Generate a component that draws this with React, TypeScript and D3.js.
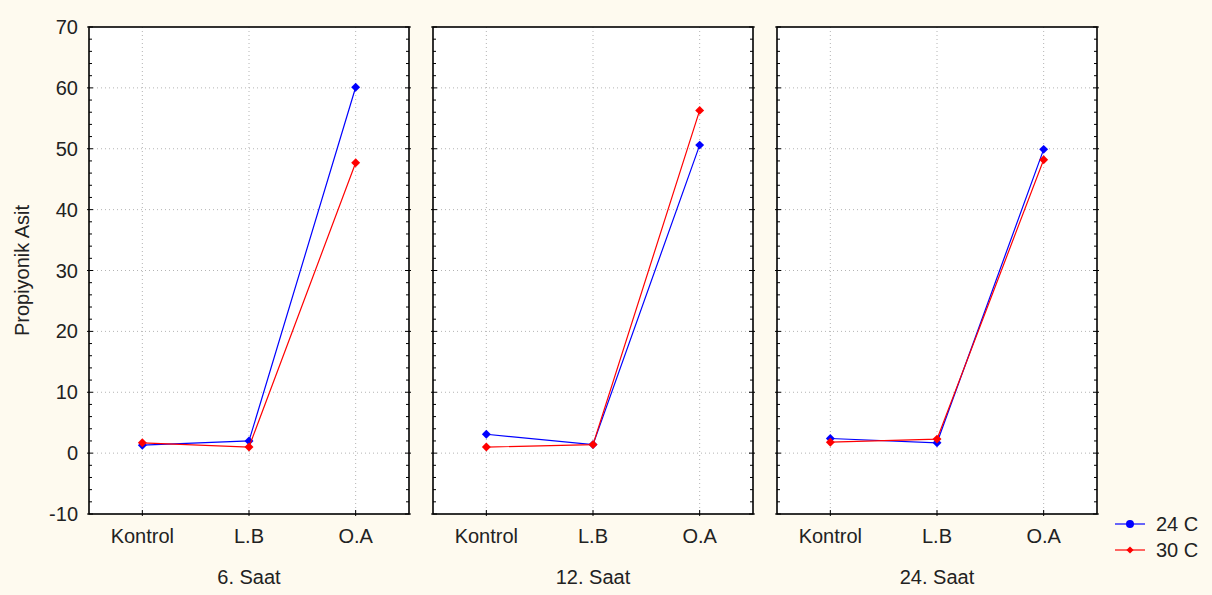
import { useEffect, useRef } from "react";
import * as d3 from "d3";

// data
const categories = ["Kontrol", "L.B", "O.A"];
const panels = ["6. Saat", "12. Saat", "24. Saat"];
const seriesNames = ["24 C", "30 C"];
const seriesColors = ["#0000ff", "#ff0000"];

// one array per panel, values in Kontrol, L.B, O.A order
const values24C = [
  [1.3, 2.0, 60.1],
  [3.1, 1.4, 50.6],
  [2.4, 1.7, 49.9],
];
const values30C = [
  [1.7, 1.0, 47.7],
  [1.0, 1.4, 56.3],
  [1.8, 2.3, 48.2],
];
const yTicks = [-10, 0, 10, 20, 30, 40, 50, 60, 70];

function App() {
  const ref = useRef<SVGSVGElement | null>(null);

  const width = 1212;
  const height = 595;
  const margin = { top: 27, bottom: 81, left: 89 };
  const panelW = 320;
  const panelGap = 24;
  const innerH = height - margin.top - margin.bottom;

  useEffect(() => {
    document.body.style.margin = "0";
    const svg = d3.select(ref.current);
    svg.selectAll("*").remove();

    svg.append("rect").attr("width", width).attr("height", height).attr("fill", "#fefaef");

    const y = d3.scaleLinear([-10, 70], [margin.top + innerH, margin.top]);
    const minorTicks = d3.range(-10, 70.01, 2).filter((v) => v % 10 !== 0);
    const font = "'Liberation Sans', Arial, sans-serif";
    const fs = "20px";

    const allSeries = [values24C, values30C];
    const diamond = d3.symbol(d3.symbolSquare, 40)();

    panels.forEach((title, pi) => {
      const x0 = margin.left + pi * (panelW + panelGap);
      const x = d3.scalePoint(categories, [x0, x0 + panelW]).padding(0.5);
      const g = svg.append("g");

      g.append("rect")
        .attr("x", x0)
        .attr("y", margin.top)
        .attr("width", panelW)
        .attr("height", innerH)
        .attr("fill", "#ffffff");

      // grid
      g.selectAll(".hgrid")
        .data(yTicks.slice(1, -1))
        .join("line")
        .attr("x1", x0)
        .attr("x2", x0 + panelW)
        .attr("y1", (d) => y(d))
        .attr("y2", (d) => y(d))
        .attr("stroke", "#b4b4b4")
        .attr("stroke-dasharray", "1,3");
      g.selectAll(".vgrid")
        .data(categories)
        .join("line")
        .attr("x1", (d) => x(d)!)
        .attr("x2", (d) => x(d)!)
        .attr("y1", margin.top)
        .attr("y2", margin.top + innerH)
        .attr("stroke", "#b4b4b4")
        .attr("stroke-dasharray", "1,3");

      // ticks on both sides
      [x0, x0 + panelW].forEach((ex, side) => {
        const dir = side === 0 ? 1 : -1;
        g.selectAll(null)
          .data(minorTicks)
          .join("line")
          .attr("x1", ex)
          .attr("x2", ex + dir * 3)
          .attr("y1", (d) => y(d))
          .attr("y2", (d) => y(d))
          .attr("stroke", "#000");
        g.selectAll(null)
          .data(yTicks)
          .join("line")
          .attr("x1", ex - dir * 2)
          .attr("x2", ex + dir * 4)
          .attr("y1", (d) => y(d))
          .attr("y2", (d) => y(d))
          .attr("stroke", "#000");
      });
      g.selectAll(null)
        .data(categories)
        .join("line")
        .attr("x1", (d) => x(d)!)
        .attr("x2", (d) => x(d)!)
        .attr("y1", margin.top + innerH + 2)
        .attr("y2", margin.top + innerH - 4)
        .attr("stroke", "#000");

      // lines and markers
      allSeries.forEach((vals, si) => {
        const pts = vals[pi].map((v, i) => ({ c: categories[i], v }));
        const line = d3
          .line<{ c: string; v: number }>()
          .x((d) => x(d.c)!)
          .y((d) => y(d.v));
        g.append("path")
          .attr("d", line(pts))
          .attr("fill", "none")
          .attr("stroke", seriesColors[si])
          .attr("stroke-width", 1.2);
        g.selectAll(null)
          .data(pts)
          .join("path")
          .attr("d", diamond)
          .attr("transform", (d) => `translate(${x(d.c)},${y(d.v)}) rotate(45)`)
          .attr("fill", seriesColors[si]);
      });

      g.append("rect")
        .attr("x", x0)
        .attr("y", margin.top)
        .attr("width", panelW)
        .attr("height", innerH)
        .attr("fill", "none")
        .attr("stroke", "#000")
        .attr("stroke-width", 1.6);

      // category labels
      g.selectAll(null)
        .data(categories)
        .join("text")
        .attr("x", (d) => x(d)!)
        .attr("y", 543)
        .attr("text-anchor", "middle")
        .style("font-family", font)
        .style("font-size", fs)
        .attr("fill", "#222")
        .text((d) => d);

      g.append("text")
        .attr("x", x0 + panelW / 2)
        .attr("y", 584)
        .attr("text-anchor", "middle")
        .style("font-family", font)
        .style("font-size", fs)
        .attr("fill", "#222")
        .text(title);
    });

    // y tick labels
    svg
      .selectAll(".ylab")
      .data(yTicks)
      .join("text")
      .attr("x", 78)
      .attr("y", (d) => y(d) + 7)
      .attr("text-anchor", "end")
      .style("font-family", font)
      .style("font-size", fs)
      .attr("fill", "#222")
      .text((d) => d);

    svg
      .append("text")
      .attr("transform", `translate(29, ${margin.top + innerH / 2}) rotate(-90)`)
      .attr("text-anchor", "middle")
      .style("font-family", font)
      .style("font-size", fs)
      .attr("fill", "#222")
      .text("Propiyonik Asit");

    // legend
    seriesNames.forEach((name, i) => {
      const ly = 524 + i * 26;
      svg
        .append("line")
        .attr("x1", 1115)
        .attr("x2", 1145)
        .attr("y1", ly)
        .attr("y2", ly)
        .attr("stroke", seriesColors[i])
        .attr("stroke-width", 1.2);
      svg
        .append("path")
        .attr("d", i === 0 ? d3.symbol(d3.symbolCircle, 50)() : d3.symbol(d3.symbolSquare, 26)())
        .attr("transform", `translate(1130,${ly})${i === 0 ? "" : " rotate(45)"}`)
        .attr("fill", seriesColors[i]);
      svg
        .append("text")
        .attr("x", 1156)
        .attr("y", ly + 7)
        .style("font-family", font)
        .style("font-size", fs)
        .attr("fill", "#222")
        .text(name);
    });
  }, []);

  return <svg ref={ref} width={width} height={height} style={{ display: "block" }} />;
}

export default App;
